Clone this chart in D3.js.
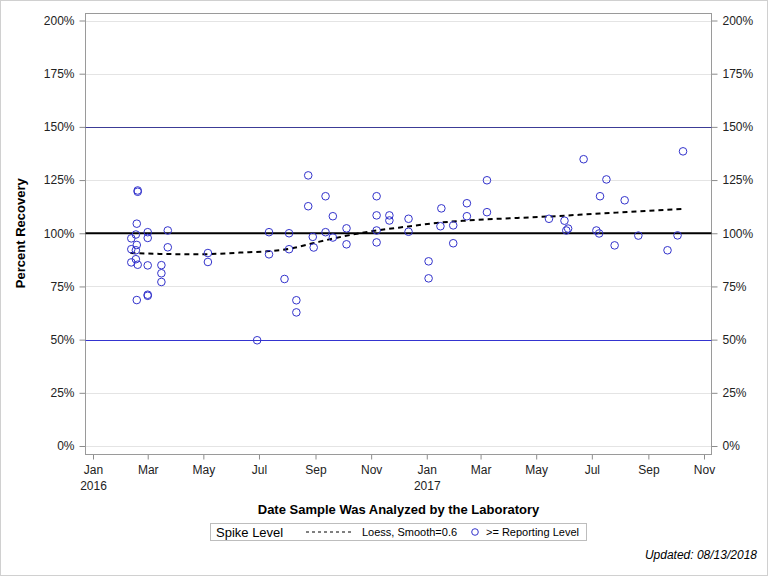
<!DOCTYPE html>
<html>
<head>
<meta charset="utf-8">
<script src="https://cdn.jsdelivr.net/npm/d3@7"></script>
<style>
  body { margin: 0; background: #fff; }
  text { font-family: 'Liberation Sans', Arial, sans-serif; }
</style>
</head>
<body>
<div id="app"></div>
<script>
'use strict'

// sample dates and percent recovery
const sampleDates = [
  '2016-02-19', '2016-02-19', '2016-02-18', '2016-02-17', '2016-02-12', '2016-03-01', '2016-03-01', '2016-03-23',
  '2016-02-18', '2016-02-12', '2016-02-17', '2016-03-23', '2016-02-17', '2016-02-12', '2016-02-19', '2016-03-01',
  '2016-03-16', '2016-03-16', '2016-03-16', '2016-02-18', '2016-03-01', '2016-03-01', '2016-05-06', '2016-05-06',
  '2016-06-29', '2016-07-12', '2016-07-12', '2016-07-29', '2016-08-03', '2016-08-03', '2016-08-11', '2016-08-11',
  '2016-08-24', '2016-08-24', '2016-08-29', '2016-08-30', '2016-09-12', '2016-09-12', '2016-09-20', '2016-09-20',
  '2016-10-05', '2016-10-05', '2016-11-07', '2016-11-07', '2016-11-07', '2016-11-07', '2016-11-21', '2016-11-21',
  '2016-12-12', '2016-12-12', '2017-01-03', '2017-01-03', '2017-01-17', '2017-01-16', '2017-01-30', '2017-01-30',
  '2017-02-14', '2017-02-14', '2017-03-08', '2017-03-08', '2017-05-15', '2017-06-01', '2017-06-03', '2017-06-05',
  '2017-06-22', '2017-07-06', '2017-07-09', '2017-07-10', '2017-07-17', '2017-07-26', '2017-08-06', '2017-08-21',
  '2017-09-22', '2017-10-03', '2017-10-09'
]
const recoveries = [
  120.1, 119.5, 104.5, 99.4, 97.6, 100.5, 97.8, 101.3,
  94.5, 92.5, 92.0, 93.4, 87.8, 86.3, 85.2, 84.9,
  85.0, 81.2, 77.1, 68.6, 70.6, 71.1, 90.7, 86.5,
  49.7, 100.5, 90.1, 78.5, 100.0, 92.5, 68.5, 62.8,
  127.2, 112.7, 98.3, 93.3, 117.4, 100.5, 108.0, 98.0,
  102.3, 94.8, 117.4, 108.4, 101.3, 95.7, 108.4, 106.0,
  106.8, 100.7, 86.8, 78.8, 111.7, 103.3, 103.7, 95.3,
  114.1, 108.0, 124.9, 109.9, 106.8, 105.9, 101.3, 102.2,
  134.8, 101.3, 99.9, 117.4, 125.3, 94.3, 115.5, 98.9,
  92.0, 99.0, 138.5
]

// loess curve
const loessDates = [
  '2016-02-11', '2016-03-14', '2016-04-27', '2016-06-10', '2016-07-12', '2016-08-03', '2016-08-29',
  '2016-09-20', '2016-11-07', '2016-12-12', '2017-01-15', '2017-02-15', '2017-05-16', '2017-08-01', '2017-10-10'
]
const loessValues = [90.7, 90.3, 90.1, 90.9, 91.6, 92.7, 95.3, 97.5, 101.3, 103.2, 105.0, 106.0, 107.9, 109.8, 111.5]

const yTicks = [0, 25, 50, 75, 100, 125, 150, 175, 200]
const controlLimits = [150, 50]
const spikeLevel = 100

const width = 768
const height = 576
const parse = d3.timeParse('%Y-%m-%d')

const points = sampleDates.map((d, i) => ({ date: parse(d), value: recoveries[i] }))
const loess = loessDates.map((d, i) => ({ date: parse(d), value: loessValues[i] }))

const frame = { left: 85.5, right: 711.5, top: 13.5, bottom: 454.5 }

const x = d3.scaleTime()
  .domain([parse('2016-01-01'), parse('2017-11-01')])
  .range([93, 704])

const y = d3.scaleLinear()
  .domain([0, 200])
  .range([446, 20.5])

const svg = d3.select('#app').append('svg')
  .attr('width', width)
  .attr('height', height)

// outer border
svg.append('rect')
  .attr('x', 0.5).attr('y', 0.5)
  .attr('width', width - 1).attr('height', height - 1)
  .attr('fill', '#fff')
  .attr('stroke', '#d0d0d0')

// gridlines
svg.append('g').selectAll('line')
  .data(yTicks)
  .enter().append('line')
  .attr('x1', frame.left).attr('x2', frame.right)
  .attr('y1', d => Math.round(y(d)) + 0.5)
  .attr('y2', d => Math.round(y(d)) + 0.5)
  .attr('stroke', '#e4e4e4')

// y axes, left and right
const yFormat = d => d + '%'
const yLeft = svg.append('g')
  .attr('transform', `translate(${frame.left},0)`)
  .call(d3.axisLeft(y).tickValues(yTicks).tickFormat(yFormat).tickSize(6).tickPadding(5))
const yRight = svg.append('g')
  .attr('transform', `translate(${frame.right},0)`)
  .call(d3.axisRight(y).tickValues(yTicks).tickFormat(yFormat).tickSize(6).tickPadding(5))

// x axis
const monthFmt = d3.timeFormat('%b')
const xAxis = svg.append('g')
  .attr('transform', `translate(0,${frame.bottom})`)
  .call(d3.axisBottom(x).ticks(d3.timeMonth.every(2)).tickFormat(monthFmt).tickSize(5).tickPadding(6))

xAxis.selectAll('.tick text')
  .each(function(d) {
    if (d.getMonth() === 0) {
      d3.select(this).append('tspan')
        .attr('x', 0).attr('dy', '1.3em')
        .text(d.getFullYear())
    }
  })

for (const ax of [yLeft, yRight, xAxis]) {
  ax.select('.domain').remove()
  ax.selectAll('.tick line').attr('stroke', '#8c8c8c')
  ax.selectAll('.tick text')
    .attr('fill', '#222')
    .style('font-size', '12px')
}

// plot frame
svg.append('rect')
  .attr('x', frame.left).attr('y', frame.top)
  .attr('width', frame.right - frame.left)
  .attr('height', frame.bottom - frame.top)
  .attr('fill', 'none')
  .attr('stroke', '#9a9a9a')

// reference lines
svg.append('g').selectAll('line')
  .data(controlLimits)
  .enter().append('line')
  .attr('x1', frame.left).attr('x2', frame.right)
  .attr('y1', d => Math.round(y(d)) + 0.5)
  .attr('y2', d => Math.round(y(d)) + 0.5)
  .attr('stroke', (d, i) => i === 0 ? '#3c3c96' : '#3434d0')

svg.append('line')
  .attr('x1', frame.left).attr('x2', frame.right)
  .attr('y1', y(spikeLevel)).attr('y2', y(spikeLevel))
  .attr('stroke', '#000')
  .attr('stroke-width', 2)

// loess fit
const line = d3.line()
  .x(d => x(d.date))
  .y(d => y(d.value))
  .curve(d3.curveMonotoneX)

svg.append('path')
  .datum(loess)
  .attr('d', line)
  .attr('fill', 'none')
  .attr('stroke', '#000')
  .attr('stroke-width', 2)
  .attr('stroke-dasharray', '5,4')

// sample points
svg.append('g').selectAll('circle')
  .data(points)
  .enter().append('circle')
  .attr('cx', d => x(d.date))
  .attr('cy', d => y(d.value))
  .attr('r', 3.8)
  .attr('fill', 'none')
  .attr('stroke', '#3333cc')
  .attr('stroke-width', 1)

// axis titles
svg.append('text')
  .attr('transform', `translate(25,${y(100)}) rotate(-90)`)
  .attr('text-anchor', 'middle')
  .style('font-size', '13px')
  .style('font-weight', 'bold')
  .text('Percent Recovery')

svg.append('text')
  .attr('x', (frame.left + frame.right) / 2)
  .attr('y', 514)
  .attr('text-anchor', 'middle')
  .style('font-size', '13px')
  .style('font-weight', 'bold')
  .text('Date Sample Was Analyzed by the Laboratory')

// legend
const legend = svg.append('g')
legend.append('rect')
  .attr('x', 210.5).attr('y', 523.5)
  .attr('width', 376).attr('height', 17)
  .attr('fill', '#fff')
  .attr('stroke', '#bdbdbd')
legend.append('text')
  .attr('x', 216).attr('y', 537)
  .style('font-size', '13px')
  .text('Spike Level')
legend.append('line')
  .attr('x1', 306).attr('x2', 352)
  .attr('y1', 532).attr('y2', 532)
  .attr('stroke', '#000')
  .attr('stroke-dasharray', '3,3')
legend.append('text')
  .attr('x', 362).attr('y', 536)
  .style('font-size', '11px')
  .text('Loess, Smooth=0.6')
legend.append('circle')
  .attr('cx', 475).attr('cy', 532)
  .attr('r', 3.3)
  .attr('fill', 'none')
  .attr('stroke', '#3333cc')
legend.append('text')
  .attr('x', 486).attr('y', 536)
  .style('font-size', '11px')
  .text('>= Reporting Level')

svg.append('text')
  .attr('x', 757).attr('y', 559)
  .attr('text-anchor', 'end')
  .style('font-size', '12px')
  .style('font-style', 'italic')
  .text('Updated: 08/13/2018')
</script>
</body>
</html>
